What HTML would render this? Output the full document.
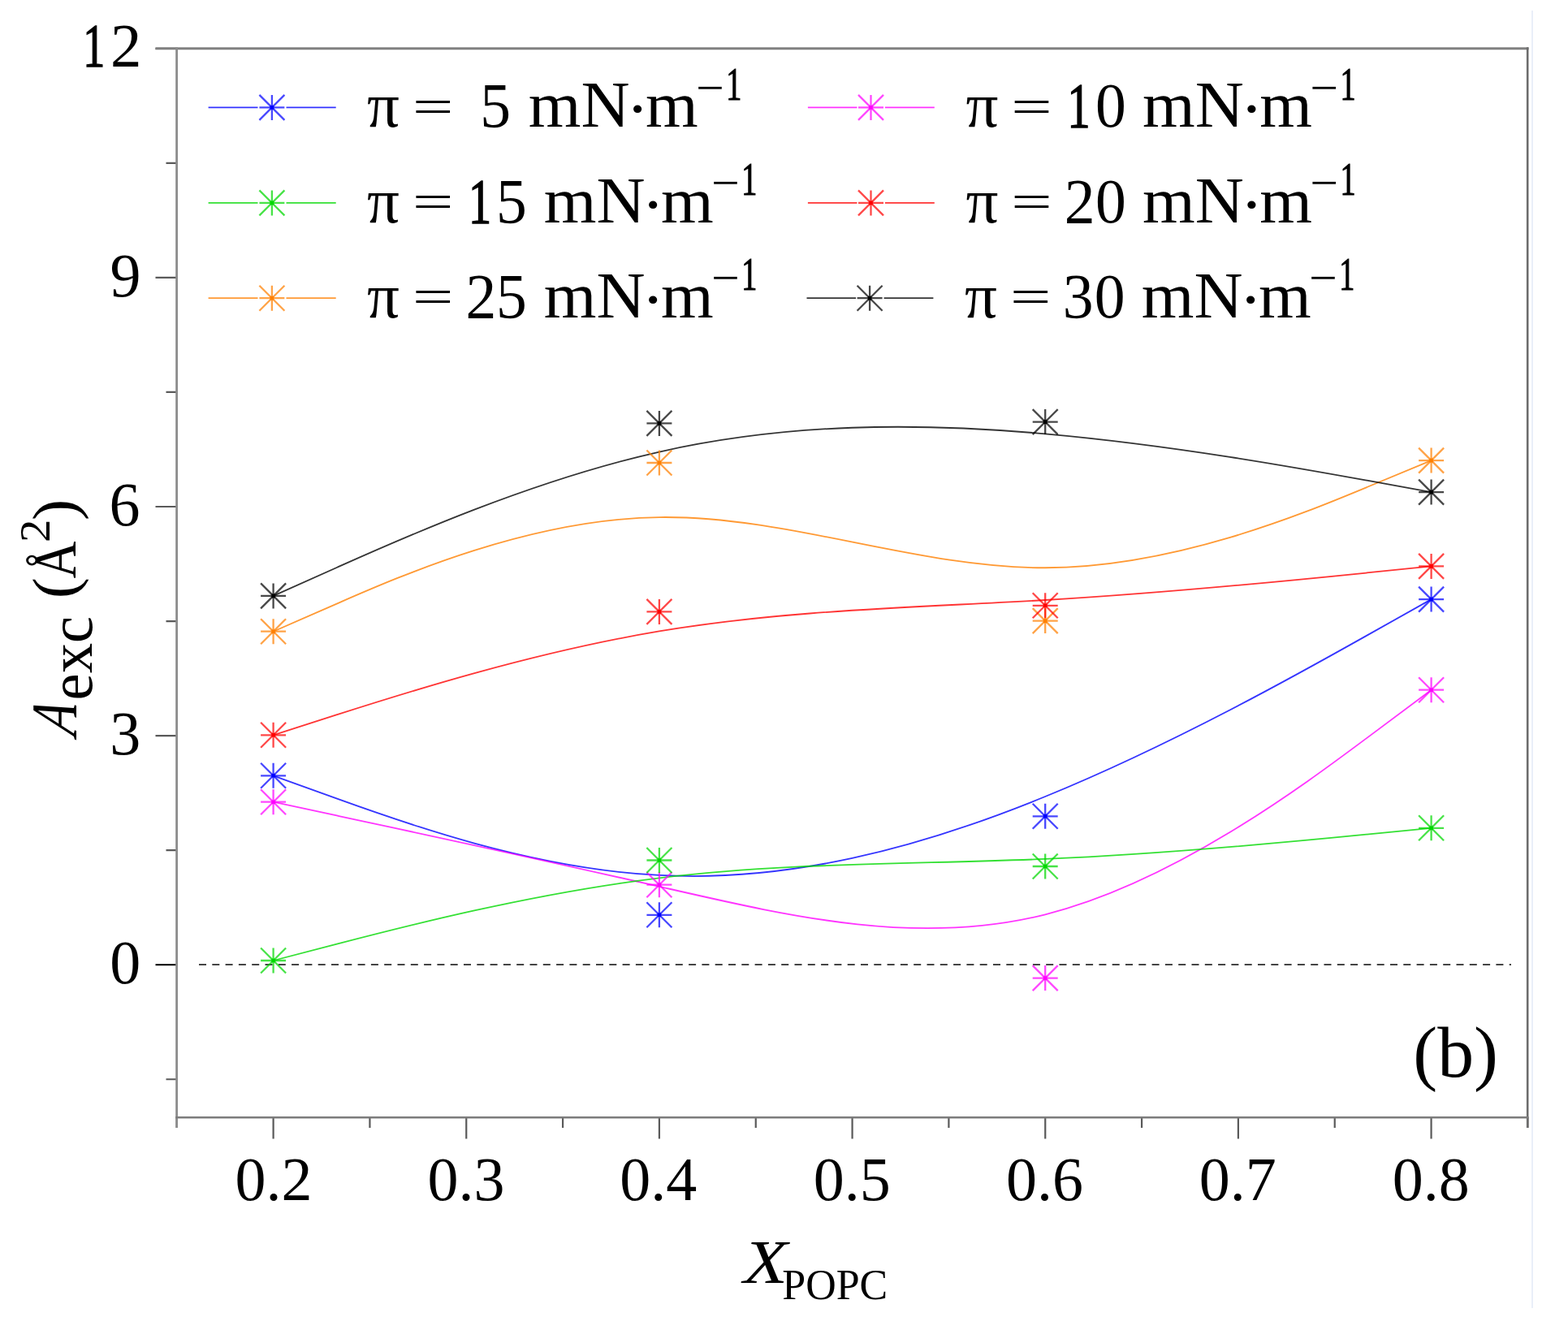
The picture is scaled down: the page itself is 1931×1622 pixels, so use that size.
<!DOCTYPE html>
<html><head><meta charset="utf-8"><title>A_exc vs X_POPC</title>
<style>html,body{margin:0;padding:0;background:#fff;}svg{display:block;}</style>
</head><body>
<svg width="1931" height="1622" viewBox="0 0 1931 1622">
<rect width="1931" height="1622" fill="#fff"/>
<line x1="1887" y1="13" x2="1887" y2="1611" stroke="#e9eff9" stroke-width="2"/>
<line x1="245" y1="1188" x2="1861" y2="1188" stroke="#444" stroke-width="1.9" stroke-dasharray="9 7.3"/>
<path d="M191.5 59.8H217.6M191.5 341.9H217.6M191.5 624H217.6M191.5 906.1H217.6M204.5 200.85H217.6M204.5 482.95H217.6M204.5 765.05H217.6M204.5 1047.15H217.6M204.5 1329.25H217.6M336.6 1376.3V1402.5M574.26 1376.3V1402.5M811.92 1376.3V1402.5M1049.58 1376.3V1402.5M1287.24 1376.3V1402.5M1524.9 1376.3V1402.5M1762.56 1376.3V1402.5M217.77 1376.3V1389M455.43 1376.3V1389M693.09 1376.3V1389M930.75 1376.3V1389M1168.41 1376.3V1389M1406.07 1376.3V1389M1643.73 1376.3V1389M1881.39 1376.3V1389" stroke="#5a5a5a" stroke-width="2.2" fill="none"/>
<path d="M191.5 1188.2H217.6" stroke="#000" stroke-width="2"/>
<path d="M191.5 59.8H1882.5" stroke="#808080" stroke-width="3" fill="none"/>
<path d="M217.6 58.3V1389" stroke="#8c8c8c" stroke-width="2.8" fill="none"/>
<path d="M1881.2 58.3V1389" stroke="#6c6c6c" stroke-width="2.6" fill="none"/>
<path d="M216.2 1376.3H1882.5" stroke="#7c7c7c" stroke-width="2.6" fill="none"/>
<g fill="none" stroke-width="1.8" stroke-opacity="0.8">
<path d="M336.6 955.3C336.6 955.3 336.6 955.3 415.82 983.88C495.03 1012.47 653.47 1069.63 811.9 1077.97C970.33 1086.3 1128.77 1045.8 1287.22 981.02C1445.67 916.23 1604.13 827.17 1683.37 782.63C1762.6 738.1 1762.6 738.1 1762.6 738.1" stroke="#0000ff"/>
<path d="M336.6 987.7C336.6 987.7 336.6 987.7 415.82 1004.7C495.03 1021.7 653.47 1055.7 811.9 1091.85C970.33 1128 1128.77 1166.3 1287.22 1126.3C1445.67 1086.3 1604.13 968 1683.37 908.85C1762.6 849.7 1762.6 849.7 1762.6 849.7" stroke="#ff00ff"/>
<path d="M336.6 1183C336.6 1183 336.6 1183 415.82 1162.42C495.03 1141.83 653.47 1100.67 811.9 1081.33C970.33 1062 1128.77 1064.5 1287.22 1057.88C1445.67 1051.27 1604.13 1035.53 1683.37 1027.67C1762.6 1019.8 1762.6 1019.8 1762.6 1019.8" stroke="#00d800"/>
<path d="M336.6 777.7C336.6 777.7 336.6 777.7 415.82 743.08C495.03 708.47 653.47 639.23 811.9 637.05C970.33 634.87 1128.77 699.73 1287.22 699.25C1445.67 698.77 1604.13 632.93 1683.37 600.02C1762.6 567.1 1762.6 567.1 1762.6 567.1" stroke="#ff8000"/>
<path d="M336.6 905.3C336.6 905.3 336.6 905.3 415.82 879.98C495.03 854.67 653.47 804.03 811.9 777.45C970.33 750.87 1128.77 748.33 1287.22 739C1445.67 729.67 1604.13 713.53 1683.37 705.47C1762.6 697.4 1762.6 697.4 1762.6 697.4" stroke="#ff0000"/>
<path d="M336.6 733.9C336.6 733.9 336.6 733.9 415.82 698.48C495.03 663.07 653.47 592.23 811.9 556.52C970.33 520.8 1128.77 520.2 1287.22 534.32C1445.67 548.43 1604.13 577.27 1683.37 591.68C1762.6 606.1 1762.6 606.1 1762.6 606.1" stroke="#000000"/>
</g>
<g fill="none" stroke-width="2.3" stroke-opacity="0.72">
<path d="M336.6 939.8v31M321.1 955.3h31M321.1 939.8l31 31M321.1 970.8l31 -31M811.9 1111.3v31M796.4 1126.8h31M796.4 1111.3l31 31M796.4 1142.3l31 -31M1287.2 989.8v31M1271.7 1005.3h31M1271.7 989.8l31 31M1271.7 1020.8l31 -31M1762.6 722.6v31M1747.1 738.1h31M1747.1 722.6l31 31M1747.1 753.6l31 -31" stroke="#0000ff"/>
<path d="M336.6 972.2v31M321.1 987.7h31M321.1 972.2l31 31M321.1 1003.2l31 -31M811.9 1074.2v31M796.4 1089.7h31M796.4 1074.2l31 31M796.4 1105.2l31 -31M1287.2 1189.1v31M1271.7 1204.6h31M1271.7 1189.1l31 31M1271.7 1220.1l31 -31M1762.6 834.2v31M1747.1 849.7h31M1747.1 834.2l31 31M1747.1 865.2l31 -31" stroke="#ff00ff"/>
<path d="M336.6 1167.5v31M321.1 1183h31M321.1 1167.5l31 31M321.1 1198.5l31 -31M811.9 1044v31M796.4 1059.5h31M796.4 1044l31 31M796.4 1075l31 -31M1287.2 1051.5v31M1271.7 1067h31M1271.7 1051.5l31 31M1271.7 1082.5l31 -31M1762.6 1004.3v31M1747.1 1019.8h31M1747.1 1004.3l31 31M1747.1 1035.3l31 -31" stroke="#00d800"/>
<path d="M336.6 762.2v31M321.1 777.7h31M321.1 762.2l31 31M321.1 793.2l31 -31M811.9 554.5v31M796.4 570h31M796.4 554.5l31 31M796.4 585.5l31 -31M1287.2 749.1v31M1271.7 764.6h31M1271.7 749.1l31 31M1271.7 780.1l31 -31M1762.6 551.6v31M1747.1 567.1h31M1747.1 551.6l31 31M1747.1 582.6l31 -31" stroke="#ff8000"/>
<path d="M336.6 889.8v31M321.1 905.3h31M321.1 889.8l31 31M321.1 920.8l31 -31M811.9 737.9v31M796.4 753.4h31M796.4 737.9l31 31M796.4 768.9l31 -31M1287.2 730.3v31M1271.7 745.8h31M1271.7 730.3l31 31M1271.7 761.3l31 -31M1762.6 681.9v31M1747.1 697.4h31M1747.1 681.9l31 31M1747.1 712.9l31 -31" stroke="#ff0000"/>
<path d="M336.6 718.4v31M321.1 733.9h31M321.1 718.4l31 31M321.1 749.4l31 -31M811.9 505.9v31M796.4 521.4h31M796.4 505.9l31 31M796.4 536.9l31 -31M1287.2 504.1v31M1271.7 519.6h31M1271.7 504.1l31 31M1271.7 535.1l31 -31M1762.6 590.6v31M1747.1 606.1h31M1747.1 590.6l31 31M1747.1 621.6l31 -31" stroke="#000000"/>
</g>
<g>
<path d="M334.3 953h4.6v4.6h-4.6zM809.6 1124.5h4.6v4.6h-4.6zM1284.9 1003h4.6v4.6h-4.6zM1760.3 735.8h4.6v4.6h-4.6z" fill="#0000ff"/>
<path d="M334.3 985.4h4.6v4.6h-4.6zM809.6 1087.4h4.6v4.6h-4.6zM1284.9 1202.3h4.6v4.6h-4.6zM1760.3 847.4h4.6v4.6h-4.6z" fill="#ff00ff"/>
<path d="M334.3 1180.7h4.6v4.6h-4.6zM809.6 1057.2h4.6v4.6h-4.6zM1284.9 1064.7h4.6v4.6h-4.6zM1760.3 1017.5h4.6v4.6h-4.6z" fill="#00d800"/>
<path d="M334.3 775.4h4.6v4.6h-4.6zM809.6 567.7h4.6v4.6h-4.6zM1284.9 762.3h4.6v4.6h-4.6zM1760.3 564.8h4.6v4.6h-4.6z" fill="#ff8000"/>
<path d="M334.3 903h4.6v4.6h-4.6zM809.6 751.1h4.6v4.6h-4.6zM1284.9 743.5h4.6v4.6h-4.6zM1760.3 695.1h4.6v4.6h-4.6z" fill="#ff0000"/>
<path d="M334.3 731.6h4.6v4.6h-4.6zM809.6 519.1h4.6v4.6h-4.6zM1284.9 517.3h4.6v4.6h-4.6zM1760.3 603.8h4.6v4.6h-4.6z" fill="#000000"/>
</g>
<path d="M256.6 132.4H317.5M352.5 132.4H413.7" stroke="#0000ff" stroke-width="1.8" stroke-opacity="0.8" fill="none"/>
<path d="M334.9 116.9v31M319.4 132.4h31M319.4 116.9l31 31M319.4 147.9l31 -31" stroke="#0000ff" stroke-width="2.3" stroke-opacity="0.72" fill="none"/>
<path d="M332.6 130.1h4.6v4.6h-4.6z" fill="#0000ff"/>
<path d="M994.9 132.4H1055.5M1090 132.4H1150.8" stroke="#ff00ff" stroke-width="1.8" stroke-opacity="0.8" fill="none"/>
<path d="M1072.5 116.9v31M1057 132.4h31M1057 116.9l31 31M1057 147.9l31 -31" stroke="#ff00ff" stroke-width="2.3" stroke-opacity="0.72" fill="none"/>
<path d="M1070.2 130.1h4.6v4.6h-4.6z" fill="#ff00ff"/>
<path d="M256.6 249.9H317.5M352.5 249.9H413.7" stroke="#00d800" stroke-width="1.8" stroke-opacity="0.8" fill="none"/>
<path d="M334.9 234.4v31M319.4 249.9h31M319.4 234.4l31 31M319.4 265.4l31 -31" stroke="#00d800" stroke-width="2.3" stroke-opacity="0.72" fill="none"/>
<path d="M332.6 247.6h4.6v4.6h-4.6z" fill="#00d800"/>
<path d="M994.9 249.9H1055.5M1090 249.9H1150.8" stroke="#ff0000" stroke-width="1.8" stroke-opacity="0.8" fill="none"/>
<path d="M1072.5 234.4v31M1057 249.9h31M1057 234.4l31 31M1057 265.4l31 -31" stroke="#ff0000" stroke-width="2.3" stroke-opacity="0.72" fill="none"/>
<path d="M1070.2 247.6h4.6v4.6h-4.6z" fill="#ff0000"/>
<path d="M256.6 367.2H317.5M352.5 367.2H413.7" stroke="#ff8000" stroke-width="1.8" stroke-opacity="0.8" fill="none"/>
<path d="M334.9 351.7v31M319.4 367.2h31M319.4 351.7l31 31M319.4 382.7l31 -31" stroke="#ff8000" stroke-width="2.3" stroke-opacity="0.72" fill="none"/>
<path d="M332.6 364.9h4.6v4.6h-4.6z" fill="#ff8000"/>
<path d="M993.5 367.2H1054.1M1088.6 367.2H1149.4" stroke="#000000" stroke-width="1.8" stroke-opacity="0.8" fill="none"/>
<path d="M1071.1 351.7v31M1055.6 367.2h31M1055.6 351.7l31 31M1055.6 382.7l31 -31" stroke="#000000" stroke-width="2.3" stroke-opacity="0.72" fill="none"/>
<path d="M1068.8 364.9h4.6v4.6h-4.6z" fill="#000000"/>
<g font-family="&apos;Liberation Serif&apos;, &apos;Times New Roman&apos;, serif" fill="#000" style="font-kerning:none">
<text x="452.12" y="156.4" font-size="79">π</text>
<text transform="translate(507.95 151.02) scale(1.49 1)" font-size="60">=</text>
<text transform="translate(591.36 156.4) scale(0.97 1)" font-size="78">5</text>
<text transform="translate(650.75 156.4) scale(1.04 1)" font-size="80">mN</text>
<text transform="translate(770.73 161.4) scale(1.08 1)" font-size="80">·</text>
<text transform="translate(795.06 156.4) scale(1.04 1)" font-size="80">m</text>
<text transform="translate(857.03 127.12) scale(1.08 1)" font-size="57">−</text>
<text transform="translate(894.25 123) scale(0.67 1)" font-size="57" stroke="#000" stroke-width="1.2">1</text>
<text x="1189.42" y="156.4" font-size="79">π</text>
<text transform="translate(1245.25 151.02) scale(1.49 1)" font-size="60">=</text>
<text transform="translate(1314.38 156.4) scale(0.72 1)" font-size="78" stroke="#000" stroke-width="1.6">1</text>
<text transform="translate(1348.99 156.4) scale(0.97 1)" font-size="78">0</text>
<text transform="translate(1407.05 156.4) scale(1.04 1)" font-size="80">mN</text>
<text transform="translate(1527.03 161.4) scale(1.08 1)" font-size="80">·</text>
<text transform="translate(1551.36 156.4) scale(1.04 1)" font-size="80">m</text>
<text transform="translate(1613.33 127.12) scale(1.08 1)" font-size="57">−</text>
<text transform="translate(1650.55 123) scale(0.67 1)" font-size="57" stroke="#000" stroke-width="1.2">1</text>
<text x="452.12" y="273.6" font-size="79">π</text>
<text transform="translate(507.95 268.22) scale(1.49 1)" font-size="60">=</text>
<text transform="translate(577.08 273.6) scale(0.72 1)" font-size="78" stroke="#000" stroke-width="1.6">1</text>
<text transform="translate(610.96 273.6) scale(0.97 1)" font-size="78">5</text>
<text transform="translate(669.75 273.6) scale(1.04 1)" font-size="80">mN</text>
<text transform="translate(789.73 278.6) scale(1.08 1)" font-size="80">·</text>
<text transform="translate(814.06 273.6) scale(1.04 1)" font-size="80">m</text>
<text transform="translate(876.03 244.32) scale(1.08 1)" font-size="57">−</text>
<text transform="translate(913.25 240.2) scale(0.67 1)" font-size="57" stroke="#000" stroke-width="1.2">1</text>
<text x="1189.42" y="273.6" font-size="79">π</text>
<text transform="translate(1245.25 268.22) scale(1.49 1)" font-size="60">=</text>
<text transform="translate(1310.71 273.6) scale(0.97 1)" font-size="78">2</text>
<text transform="translate(1348.99 273.6) scale(0.97 1)" font-size="78">0</text>
<text transform="translate(1407.05 273.6) scale(1.04 1)" font-size="80">mN</text>
<text transform="translate(1527.03 278.6) scale(1.08 1)" font-size="80">·</text>
<text transform="translate(1551.36 273.6) scale(1.04 1)" font-size="80">m</text>
<text transform="translate(1613.33 244.32) scale(1.08 1)" font-size="57">−</text>
<text transform="translate(1650.55 240.2) scale(0.67 1)" font-size="57" stroke="#000" stroke-width="1.2">1</text>
<text x="452.12" y="390.6" font-size="79">π</text>
<text transform="translate(507.95 385.22) scale(1.49 1)" font-size="60">=</text>
<text transform="translate(573.41 390.6) scale(0.97 1)" font-size="78">2</text>
<text transform="translate(610.96 390.6) scale(0.97 1)" font-size="78">5</text>
<text transform="translate(669.75 390.6) scale(1.04 1)" font-size="80">mN</text>
<text transform="translate(789.73 395.6) scale(1.08 1)" font-size="80">·</text>
<text transform="translate(814.06 390.6) scale(1.04 1)" font-size="80">m</text>
<text transform="translate(876.03 361.32) scale(1.08 1)" font-size="57">−</text>
<text transform="translate(913.25 357.2) scale(0.67 1)" font-size="57" stroke="#000" stroke-width="1.2">1</text>
<text x="1188.12" y="390.6" font-size="79">π</text>
<text transform="translate(1243.95 385.22) scale(1.49 1)" font-size="60">=</text>
<text transform="translate(1308.65 390.6) scale(0.97 1)" font-size="78">3</text>
<text transform="translate(1347.69 390.6) scale(0.97 1)" font-size="78">0</text>
<text transform="translate(1405.75 390.6) scale(1.04 1)" font-size="80">mN</text>
<text transform="translate(1525.73 395.6) scale(1.08 1)" font-size="80">·</text>
<text transform="translate(1550.06 390.6) scale(1.04 1)" font-size="80">m</text>
<text transform="translate(1612.03 361.32) scale(1.08 1)" font-size="57">−</text>
<text transform="translate(1649.25 357.2) scale(0.67 1)" font-size="57" stroke="#000" stroke-width="1.2">1</text>
</g>
<g font-family="&apos;Liberation Serif&apos;, &apos;Times New Roman&apos;, serif" fill="#000" style="font-kerning:none">
<text transform="translate(136.12 82.4) scale(1.01 1)" font-size="76">2</text>
<text transform="translate(102.26 82.4) scale(0.71 1)" font-size="76" stroke="#000" stroke-width="1.6">1</text>
<text x="135.42" y="364.5" font-size="76">9</text>
<text x="134.56" y="646.6" font-size="76">6</text>
<text x="135.27" y="928.7" font-size="76">3</text>
<text x="135.19" y="1210.8" font-size="76">0</text>
<text x="289.45" y="1478.2" font-size="76">0.2</text>
<text x="526.5" y="1478.2" font-size="76">0.3</text>
<text x="763.27" y="1478.2" font-size="76">0.4</text>
<text x="1001.82" y="1478.2" font-size="76">0.5</text>
<text x="1239.12" y="1478.2" font-size="76">0.6</text>
<text x="1476.75" y="1478.2" font-size="76">0.7</text>
<text x="1714.76" y="1478.2" font-size="76">0.8</text>
</g>
<g font-family="&apos;Liberation Serif&apos;, &apos;Times New Roman&apos;, serif" fill="#000" style="font-kerning:none">
<text transform="translate(915.38 1580.4) scale(1.16 1)" font-size="77" font-style="italic">X</text>
<text transform="translate(963.3 1600.3) scale(0.98 1)" font-size="53">POPC</text>
<text transform="translate(1740.25 1325.6) scale(1.02 1)" font-size="88">(b)</text>
</g>
<g font-family="&apos;Liberation Serif&apos;, &apos;Times New Roman&apos;, serif" fill="#000" style="font-kerning:none">
<text transform="rotate(-90) translate(-907.88 93.6) skewX(-12.5) scale(0.8 1)" font-size="80" font-style="italic">A</text>
<text transform="rotate(-90) translate(-862.43 113) scale(0.97 1)" font-size="77">exc</text>
<text transform="rotate(-90) translate(-737.16 92.6) scale(1.02 1)" font-size="77">(</text>
<text transform="rotate(-90) translate(-712.62 92.7) scale(0.87 1)" font-size="73">Å</text>
<text transform="rotate(-90) translate(-668.09 61.3) scale(1.06 1)" font-size="53.6">2</text>
<text transform="rotate(-90) translate(-641.03 92.6) scale(1.02 1)" font-size="77">)</text>
</g>
</svg>
</body></html>
